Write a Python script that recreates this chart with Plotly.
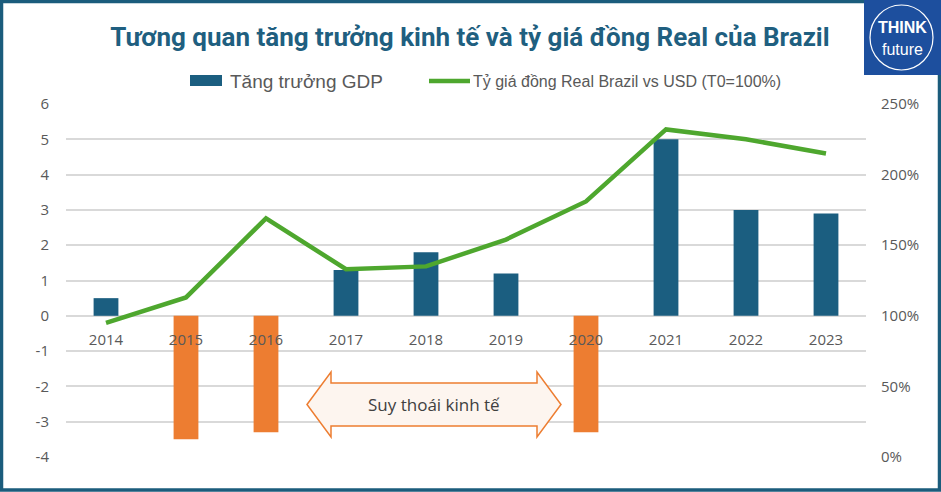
import plotly.graph_objects as go

years = ["2014", "2015", "2016", "2017", "2018", "2019", "2020", "2021", "2022", "2023"]
gdp_growth = [0.5, -3.5, -3.3, 1.3, 1.8, 1.2, -3.3, 5.0, 3.0, 2.9]
brl_vs_usd = [95, 113, 169, 133, 135, 154, 181, 232, 225, 215]
left_ticks = [-4, -3, -2, -1, 0, 1, 2, 3, 4, 5, 6]

title_text = "Tương quan tăng trưởng kinh tế và tỷ giá đồng Real của Brazil"
legend_gdp = "Tăng trưởng GDP"
legend_fx = "Tỷ giá đồng Real Brazil vs USD (T0=100%)"
arrow_text = "Suy thoái kinh tế"

TEAL = "#1B5E80"
ORANGE = "#ED7D31"
GREEN = "#4EA72E"
GRID = "#D9D9D9"
TICK = "#595959"

W, H = 941, 492
ML, MR, MT, MB = 66, 75, 104, 35
PW, PH = W - ML - MR, H - MT - MB

def px(x):
    return (x - ML) / PW

def py(y):
    return (H - MB - y) / PH

y_min, y_max = -4, 6

bar_colors = [TEAL if v >= 0 else ORANGE for v in gdp_growth]

fig = go.Figure()
fig.add_trace(go.Bar(x=years, y=gdp_growth, marker=dict(color=bar_colors, line=dict(width=0)),
                     width=0.31, name=legend_gdp, showlegend=False))
fig.add_trace(go.Scatter(x=years, y=brl_vs_usd, yaxis="y2", mode="lines",
                         line=dict(color=GREEN, width=4.5), name=legend_fx, showlegend=False))

tickfont = dict(family="Open Sans, Liberation Sans, Arial", size=15, color=TICK)

fig.update_layout(
    width=W, height=H,
    margin=dict(l=ML, r=MR, t=MT, b=MB),
    paper_bgcolor="white", plot_bgcolor="white",
    xaxis=dict(type="category", anchor="free", position=(0 - y_min) / (y_max - y_min),
               showgrid=False, showline=False, ticks="", tickfont=tickfont,
               ticklabelstandoff=13),
    yaxis=dict(range=[y_min, y_max], tickmode="array", tickvals=left_ticks,
               ticktext=[str(v) for v in left_ticks],
               showgrid=True, gridcolor=GRID, gridwidth=1.5,
               zeroline=True, zerolinecolor=GRID, zerolinewidth=1.5, tickfont=tickfont,
               ticks="", ticklabelstandoff=16, showline=False),
    yaxis2=dict(range=[0, 250], dtick=50, overlaying="y", side="right", showgrid=False,
                zeroline=False, ticksuffix="%", tickfont=tickfont, ticks="",
                ticklabelstandoff=14, showline=False),
    title=dict(text=title_text, x=470 / W, xanchor="center",
               y=1 - 37 / H, yanchor="middle",
               font=dict(family="Roboto", size=26, color="#1F5F80", weight=700)),
)

shapes = []
# outer frame
shapes.append(dict(type="rect", xref="paper", yref="paper",
                   x0=px(1.5), x1=px(W - 1.5), y0=py(H - 2), y1=py(1.5),
                   line=dict(color="#1B5C7C", width=3.5), fillcolor="rgba(0,0,0,0)", layer="above"))
# double arrow
xl, xlb, xrb, xr = px(307), px(331), px(537), px(561)
yt, ybt, ybb, yb, yc = py(372), py(383), py(426), py(437), py(404.5)
path = (f"M {xl},{yc} L {xlb},{yt} L {xlb},{ybt} L {xrb},{ybt} L {xrb},{yt} L {xr},{yc} "
        f"L {xrb},{yb} L {xrb},{ybb} L {xlb},{ybb} L {xlb},{yb} Z")
shapes.append(dict(type="path", xref="paper", yref="paper", path=path,
                   fillcolor="#FDF5EF", line=dict(color=ORANGE, width=1.5), layer="above"))
# legend markers
shapes.append(dict(type="rect", xref="paper", yref="paper", x0=px(190), x1=px(222),
                   y0=py(86), y1=py(75), fillcolor=TEAL, line=dict(width=0)))
shapes.append(dict(type="line", xref="paper", yref="paper", x0=px(429), x1=px(470),
                   y0=py(81), y1=py(81), line=dict(color=GREEN, width=4.5)))
# logo
shapes.append(dict(type="rect", xref="paper", yref="paper", x0=px(864), x1=px(W),
                   y0=py(75), y1=py(0), fillcolor="#1D4F9E", line=dict(width=0), layer="above"))
shapes.append(dict(type="circle", xref="paper", yref="paper", x0=px(870), x1=px(933),
                   y0=py(70), y1=py(5), fillcolor="rgba(0,0,0,0)",
                   line=dict(color="white", width=1.2), layer="above"))
fig.update_layout(shapes=shapes)

annotations = [
    dict(text=arrow_text, xref="paper", yref="paper", x=px(434), y=yc, showarrow=False,
         xanchor="center", yanchor="middle",
         font=dict(family="Open Sans, Liberation Sans", size=17, color="#404040")),
    dict(text=legend_gdp, xref="paper", yref="paper", x=px(228), y=py(81), showarrow=False,
         xanchor="left", yanchor="middle",
         font=dict(family="Liberation Sans, Arial", size=19, color=TICK)),
    dict(text=legend_fx, xref="paper", yref="paper", x=px(471), y=py(81), showarrow=False,
         xanchor="left", yanchor="middle",
         font=dict(family="Liberation Sans, Arial", size=16, color=TICK)),
    dict(text="<b>THINK</b>", xref="paper", yref="paper", x=px(902), y=py(28), showarrow=False,
         xanchor="center", yanchor="middle",
         font=dict(family="Liberation Sans, Arial", size=16, color="white")),
    dict(text="future", xref="paper", yref="paper", x=px(902), y=py(49), showarrow=False,
         xanchor="center", yanchor="middle",
         font=dict(family="Liberation Sans, Arial", size=16, color="white")),
]
fig.update_layout(annotations=annotations)

fig.write_html("out.html")
